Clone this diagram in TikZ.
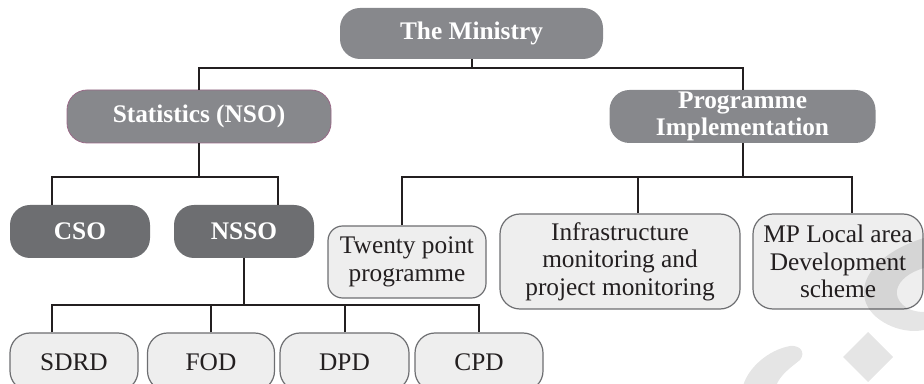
\documentclass[tikz,border=0pt]{standalone}
\usepackage{fontspec}
\setmainfont{Liberation Serif}
\usetikzlibrary{calc}
\definecolor{darkbox}{HTML}{6D6E71}
\definecolor{midbox}{HTML}{87888C}
\definecolor{lightbox}{HTML}{EEEEEE}
\definecolor{lightborder}{HTML}{6D6E71}
\definecolor{linecol}{HTML}{231F20}
\definecolor{statborder}{HTML}{9A6A88}
\begin{document}
\begin{tikzpicture}[x=0.75pt,y=-0.75pt,
  darknode/.style={rounded corners=15pt, inner sep=0pt, align=center, fill=midbox, text=white,
    font=\bfseries\fontsize{19}{20}\selectfont},
  deepnode/.style={darknode, fill=darkbox},
  lightnode/.style={rounded corners=15pt, inner sep=0pt, align=center, fill=lightbox,
    draw=lightborder, line width=0.9pt, text=linecol, font=\fontsize{19}{20.5}\selectfont},
  conn/.style={draw=linecol, line width=1.5pt},
  wm/.style={fill=black, fill opacity=0.1}]
\useasboundingbox (0,0) rectangle (924,384);
% nodes
\node[darknode, minimum width=197.25pt, minimum height=38.25pt] (min) at (471.5,33.5) {The Ministry};
\node[darknode, draw=statborder, line width=0.6pt, minimum width=198pt, minimum height=39.75pt] (stat) at (199,116.5) {Statistics (NSO)};
\node[darknode, minimum width=199.5pt, minimum height=39.75pt] (prog) at (742.5,116.5) {Programme\\Implementation};
\node[deepnode, minimum width=105pt, minimum height=39.75pt] (cso) at (80,231.5) {CSO};
\node[deepnode, minimum width=105pt, minimum height=39.75pt] (nsso) at (244,231.5) {NSSO};
\node[lightnode, rounded corners=11pt, minimum width=118.5pt, minimum height=54pt] (twenty) at (407,262) {Twenty point\\programme};
\node[lightnode, minimum width=180pt, minimum height=71.25pt] (infra) at (620,261.5) {Infrastructure\\monitoring and\\project monitoring};
\node[lightnode, minimum width=127.5pt, minimum height=71.25pt] (mp) at (838,261.5) {MP Local area\\Development\\scheme};
\node[lightnode, minimum width=96pt, minimum height=43.5pt] (sdrd) at (74,362) {SDRD};
\node[lightnode, minimum width=95.25pt, minimum height=43.5pt] (fod) at (211,362) {FOD};
\node[lightnode, minimum width=96.75pt, minimum height=43.5pt] (dpd) at (344.5,362) {DPD};
\node[lightnode, minimum width=96pt, minimum height=43.5pt] (cpd) at (479,362) {CPD};
% bus levels and offset attachment points
\coordinate (b1) at (0,68.5);
\coordinate (b2) at (0,177.5);
\coordinate (b3) at (0,305);
\coordinate (csoT) at ($(cso.north)+(-28,0)$);
\coordinate (nssoT) at ($(nsso.north)+(34,0)$);
\coordinate (sdrdT) at ($(sdrd.north)+(-22,0)$);
\coordinate (twT) at ($(twenty.north)+(-5,0)$);
\coordinate (infT) at ($(infra.north)+(18,0)$);
\coordinate (mpT) at ($(mp.north)+(14,0)$);
% connectors
\draw[conn] (min.south) -- (min.south |- b1);
\draw[conn] (stat.north) |- (prog.north |- b1) -- (prog.north);
\draw[conn] (stat.south) -- (stat.south |- b2);
\draw[conn] (csoT) |- (nssoT |- b2) -- (nssoT);
\draw[conn] (prog.south) -- (prog.south |- b2);
\draw[conn] (twT) |- (mpT |- b2) -- (mpT);
\draw[conn] (infra.north -| infT) -- (infT |- b2);
\draw[conn] (nsso.south) -- (nsso.south |- b3);
\draw[conn] (sdrdT) |- (cpd.north |- b3) -- (cpd.north);
\draw[conn] (fod.north) -- (fod.north |- b3);
\draw[conn] (dpd.north) -- (dpd.north |- b3);
% watermark overlay
\fill[wm] (868,332) -- (893,357) -- (868,382) -- (843,357) -- cycle;
\fill[wm] (924,238) .. controls (885,250) and (858,275) .. (865,300)
  .. controls (870,320) and (900,335) .. (924,330) -- (924,312)
  .. controls (905,312) and (895,300) .. (897,290)
  .. controls (899,280) and (910,272) .. (924,268) -- cycle;
\fill[wm] (743,386) .. controls (748,368) and (768,350) .. (790,346)
  .. controls (800,345) and (806,352) .. (800,360)
  .. controls (790,368) and (780,375) .. (776,386) -- cycle;
\end{tikzpicture}
\end{document}
